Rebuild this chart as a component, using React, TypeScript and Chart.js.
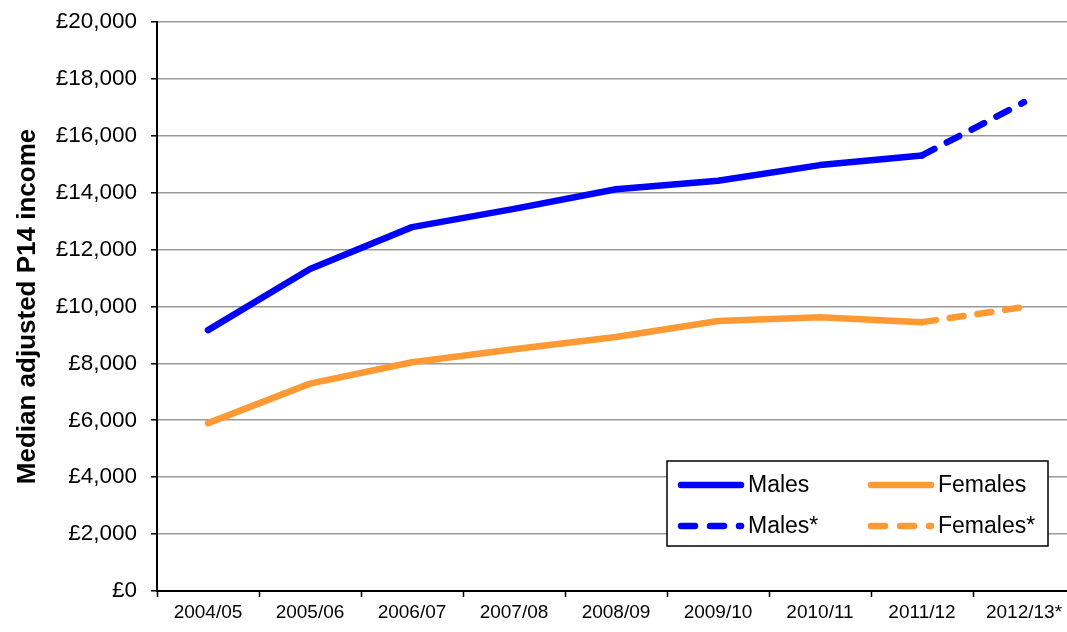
import React, { useEffect, useRef } from "react";
import { Chart, registerables } from "chart.js";

Chart.register(...registerables);

const categories = ["2004/05", "2005/06", "2006/07", "2007/08", "2008/09", "2009/10", "2010/11", "2011/12", "2012/13*"];
const males = [9170, 11320, 12790, 13430, 14120, 14420, 14970, 15310, null];
const malesStar = [null, null, null, null, null, null, null, 15310, 17180];
const females = [5900, 7290, 8040, 8500, 8930, 9490, 9620, 9450, null];
const femalesStar = [null, null, null, null, null, null, null, 9450, 9980];
const yTickValues = [0, 2000, 4000, 6000, 8000, 10000, 12000, 14000, 16000, 18000, 20000];
const yTitle = "Median adjusted P14 income";

const BLUE = "#0000FF";
const ORANGE = "#FF9933";
const FONT = "'Liberation Sans', Arial, sans-serif";

const legendPlugin = {
  id: "boxLegend",
  afterDraw(chart: any) {
    const ctx = chart.ctx;
    const ds = chart.data.datasets;
    const boxL = 667, boxT = 461, boxW = 381, boxH = 85;
    ctx.save();
    ctx.fillStyle = "#fff";
    ctx.fillRect(boxL, boxT, boxW, boxH);
    ctx.strokeStyle = "#000";
    ctx.lineWidth = 1.5;
    ctx.strokeRect(boxL, boxT, boxW, boxH);
    const cols = [boxL + 14, boxL + 204];
    const rows = [boxT + 24, boxT + 65];
    const layout = [
      [0, 0, 0],
      [2, 1, 0],
      [1, 0, 1],
      [3, 1, 1],
    ];
    ctx.font = `23px ${FONT}`;
    ctx.textBaseline = "middle";
    ctx.textAlign = "left";
    for (const [i, c, r] of layout) {
      const d = ds[i];
      const x = cols[c];
      const y = rows[r];
      ctx.beginPath();
      ctx.strokeStyle = d.borderColor;
      ctx.lineWidth = 6.5;
      ctx.lineCap = "round";
      ctx.setLineDash(d.borderDash ? [14, 15] : []);
      ctx.moveTo(x, y);
      ctx.lineTo(x + 60, y);
      ctx.stroke();
      ctx.setLineDash([]);
      ctx.fillStyle = "#000";
      ctx.fillText(d.label, x + 67, y + 1);
    }
    ctx.restore();
  },
};

export default function App() {
  const ref = useRef<HTMLCanvasElement>(null);
  useEffect(() => {
    if (!ref.current) return;
    const base = { borderWidth: 6.5, borderCapStyle: "round", borderJoinStyle: "round", pointRadius: 0, tension: 0 };
    const chart = new Chart(ref.current, {
      type: "line",
      data: {
        labels: categories,
        datasets: [
          { ...base, label: "Males", data: males, borderColor: BLUE, backgroundColor: BLUE },
          { ...base, label: "Males*", data: malesStar, borderColor: BLUE, backgroundColor: BLUE, borderDash: [14, 14] },
          { ...base, label: "Females", data: females, borderColor: ORANGE, backgroundColor: ORANGE },
          { ...base, label: "Females*", data: femalesStar, borderColor: ORANGE, backgroundColor: ORANGE, borderDash: [14, 14] },
        ] as any,
      },
      options: {
        responsive: false,
        animation: false,
        layout: { padding: { top: 22, right: 1, left: 0, bottom: 0 } },
        plugins: { legend: { display: false }, tooltip: { enabled: false } },
        scales: {
          x: {
            type: "category",
            offset: true,
            grid: { drawOnChartArea: false, drawTicks: true, tickLength: 6, tickColor: "#000", tickWidth: 1.5, offset: true },
            border: { color: "#000", width: 2 },
            ticks: { color: "#000", font: { family: FONT, size: 19 }, padding: 4, autoSkip: false, maxRotation: 0 },
            afterFit: (s: any) => { s.height = 41; s.paddingLeft = 0; s.paddingRight = 0; },
          },
          y: {
            min: 0,
            max: 20000,
            afterBuildTicks: (s: any) => { s.ticks = yTickValues.map((v) => ({ value: v })); },
            grid: { color: "#999999", lineWidth: 1.6, tickLength: 6, tickColor: "#000", tickWidth: 1.5 },
            border: { color: "#000", width: 2 },
            ticks: {
              color: "#000",
              font: { family: FONT, size: 22.5 },
              padding: 14,
              callback: (v: any) => "£" + Number(v).toLocaleString("en-GB"),
            },
            title: { display: true, text: yTitle, color: "#000", font: { family: FONT, size: 26, weight: "bold" }, padding: { top: 12, bottom: 0 } },
            afterFit: (s: any) => { s.width = 157; s.paddingTop = 0; s.paddingBottom = 0; },
          },
        },
      } as any,
      plugins: [legendPlugin],
    });
    return () => chart.destroy();
  }, []);
  return (
    <div style={{ position: "fixed", left: 0, top: 0, width: 1067, height: 632, overflow: "hidden", background: "#fff" }}>
      <canvas ref={ref} width={1076} height={632} style={{ display: "block" }} />
    </div>
  );
}
